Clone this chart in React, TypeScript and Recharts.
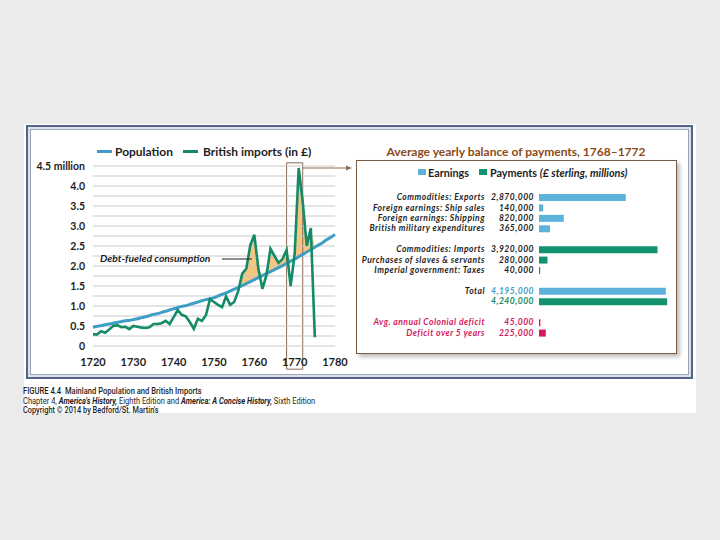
import React, { useLayoutEffect, useRef, useState } from "react";
import {
  ComposedChart,
  Line,
  Area,
  XAxis,
  YAxis,
  ReferenceLine,
  ReferenceArea,
  BarChart,
  Bar,
  Cell,
} from "recharts";

// ---- left chart data (millions) ----
const START_YEAR = 1720;
const population = [
  0.47, 0.49, 0.51, 0.53, 0.55, 0.57, 0.59, 0.61, 0.63, 0.64,
  0.66, 0.68, 0.71, 0.73, 0.76, 0.79, 0.81, 0.84, 0.87, 0.9,
  0.93, 0.96, 0.99, 1.01, 1.04, 1.07, 1.1, 1.13, 1.16, 1.18,
  1.21, 1.25, 1.29, 1.33, 1.37, 1.42, 1.46, 1.51, 1.56, 1.61,
  1.66, 1.71, 1.76, 1.81, 1.86, 1.91, 1.96, 2.01, 2.06, 2.12,
  2.17, 2.23, 2.29, 2.35, 2.41, 2.47, 2.53, 2.59, 2.66, 2.72,
  2.79,
];
const britishImports = [
  0.29, 0.29, 0.37, 0.33, 0.41, 0.5, 0.52, 0.47, 0.48, 0.42,
  0.5, 0.48, 0.46, 0.45, 0.47, 0.55, 0.55, 0.57, 0.63, 0.55,
  0.72, 0.9, 0.78, 0.74, 0.6, 0.43, 0.68, 0.63, 0.77, 1.17,
  1.1, 1.03, 0.97, 1.24, 1.03, 1.1, 1.37, 1.81, 1.93, 2.52,
  2.78, 1.93, 1.43, 1.77, 2.43, 2.25, 2.08, 2.18, 2.4, 1.5,
  2.3, 4.45, 3.6, 2.5, 2.95, 0.22,
];
const yearTicks = [1720, 1730, 1740, 1750, 1760, 1770, 1780];
const valueTicks = [0, 0.5, 1, 1.5, 2, 2.5, 3, 3.5, 4, 4.5];
const gridValues = [
  0.25, 0.5, 0.75, 1, 1.25, 1.5, 1.75, 2, 2.25, 2.5, 2.75, 3, 3.25, 3.5,
  3.75, 4, 4.25, 4.5,
];
const highlightYears = [1768, 1772];

// ---- balance of payments panel ----
const rowLabels = [
  "Commodities: Exports",
  "Foreign earnings: Ship sales",
  "Foreign earnings: Shipping",
  "British military expenditures",
  "",
  "Commodities: Imports",
  "Purchases of slaves & servants",
  "Imperial government: Taxes",
  "",
  "Total",
  "",
  "",
  "Avg. annual Colonial deficit",
  "Deficit over 5 years",
];
const rowValues = [
  2870000, 140000, 820000, 365000, null, 3920000, 280000, 40000, null,
  4195000, 4240000, null, 45000, 225000,
];
const rowKinds = [
  "earn", "earn", "earn", "earn", "", "pay", "pay", "pay", "",
  "earnTotal", "payTotal", "", "deficit", "deficit",
];

const BLUE = "#3d9dc6";
const GREEN = "#148a68";
const ORANGE = "#f5c071";
const EARN = "#5cb2db";
const PAY = "#13926f";
const DEFICIT = "#d5175c";
const BROWN = "#8b4a16";
const GRID = "#c9c9c9";
const FONT = "Lato, 'Open Sans', sans-serif";

const barFill: Record<string, string> = {
  earn: EARN,
  earnTotal: EARN,
  pay: PAY,
  payTotal: PAY,
  deficit: DEFICIT,
};
const valueColor: Record<string, string> = {
  earnTotal: "#3f9fc9",
  payTotal: GREEN,
  deficit: DEFICIT,
};

const lineData = population.map((p, i) => ({
  year: START_YEAR + i,
  pop: p,
  imp: i < britishImports.length ? britishImports[i] : null,
}));

const rowData = rowLabels.map((label, i) => ({
  id: `r${i}`,
  label,
  value: rowValues[i],
  kind: rowKinds[i],
}));

function Txt({ x, y, size, children, color = "#1e1e1e", italic = false, weight = 700, anchor = "start" }: any) {
  return (
    <div
      style={{
        position: "absolute",
        left: x,
        top: y,
        transform: `translate(${anchor === "middle" ? "-50%" : "0"}, -50%)`,
        fontFamily: FONT,
        fontSize: size,
        fontWeight: weight,
        fontStyle: italic ? "italic" : "normal",
        color,
        whiteSpace: "nowrap",
        lineHeight: 1,
      }}
    >
      {children}
    </div>
  );
}

// caption line squeezed horizontally to the condensed width of the original
function FitLine({ x, y, width, weight = 400, children }: any) {
  const ref = useRef<HTMLSpanElement>(null);
  const [scale, setScale] = useState(1);
  useLayoutEffect(() => {
    if (ref.current) {
      const w = ref.current.offsetWidth;
      if (w > 0) setScale(width / w);
    }
  }, [width]);
  return (
    <div style={{ position: "absolute", left: x, top: y, transform: "translateY(-50%)", lineHeight: 1 }}>
      <span
        ref={ref}
        style={{
          display: "inline-block",
          whiteSpace: "nowrap",
          fontFamily: "Roboto, sans-serif",
          fontSize: 9.5,
          fontWeight: weight,
          color: "#1e1e1e",
          transform: `scaleX(${scale})`,
          transformOrigin: "0 50%",
        }}
      >
        {children}
      </span>
    </div>
  );
}

const yTickFormat = (v: number) => (v === 4.5 ? "4.5 million" : v === 0 ? "0" : v.toFixed(1));

function YTick({ x, y, payload }: any) {
  return (
    <text
      x={x}
      y={y}
      dy="0.35em"
      textAnchor="end"
      fill="#1e1e1e"
      style={{ fontFamily: FONT, fontSize: 10.5, fontWeight: 700 }}
    >
      {yTickFormat(payload.value)}
    </text>
  );
}

function RowTick(props: any) {
  const { y, payload } = props;
  const row = rowData.find((r) => r.id === payload.value);
  if (!row) return null;
  const labelColor = row.kind === "deficit" ? DEFICIT : "#1e1e1e";
  const vColor = valueColor[row.kind] || "#1e1e1e";
  const style = {
    fontFamily: FONT,
    fontSize: 8.5,
    fontWeight: 700,
    fontStyle: "italic" as const,
    letterSpacing: 0.5,
  };
  return (
    <g>
      <text x={129} y={y} dy="0.35em" textAnchor="end" fill={labelColor} style={style}>
        {row.label}
      </text>
      {row.value != null && (
        <text x={178} y={y} dy="0.35em" textAnchor="end" fill={vColor} style={style}>
          {row.value.toLocaleString("en-US")}
        </text>
      )}
    </g>
  );
}

export default function App() {
  return (
    <div style={{ position: "absolute", left: 0, top: 0, width: 720, height: 540, background: "#ebebeb", overflow: "hidden" }}>
      {/* image box */}
      <div style={{ position: "absolute", left: 24, top: 124, width: 672, height: 289, background: "#fff" }} />
      {/* frame */}
      <div
        style={{
          position: "absolute",
          left: 26,
          top: 125,
          width: 667,
          height: 254,
          boxSizing: "border-box",
          border: "2px solid #55658a",
          boxShadow: "inset 0 0 0 2px #dde2ea, inset 0 0 0 3px #9aa6ba",
          background: "#fff",
        }}
      />

      {/* left legend */}
      <div style={{ position: "absolute", left: 97, top: 150, width: 15, height: 3, background: BLUE }} />
      <Txt x={115} y={151.5} size={12}>Population</Txt>
      <div style={{ position: "absolute", left: 183, top: 150, width: 15, height: 3, background: GREEN }} />
      <Txt x={203} y={151.5} size={12}>British imports (in £)</Txt>

      {/* left chart (half-pixel offset keeps the 1px grid crisp) */}
      <div style={{ position: "absolute", left: 30, top: 140.5, width: 320, height: 235 }}>
        <ComposedChart width={320} height={235} data={lineData} margin={{ top: 25, right: 15, left: 8, bottom: 10 }}>
          <XAxis
            dataKey="year"
            type="number"
            domain={[1720, 1780]}
            ticks={yearTicks}
            height={20}
            axisLine={{ stroke: GRID }}
            tickLine={false}
            tickMargin={6}
            tick={{ fontFamily: FONT, fontSize: 11, fontWeight: 700, fill: "#1e1e1e" }}
          />
          <YAxis
            type="number"
            domain={[0, 4.5]}
            ticks={valueTicks}
            interval={0}
            width={55}
            axisLine={false}
            tickLine={false}
            tick={<YTick />}
          />
          {gridValues.map((v) => (
            <ReferenceLine key={v} y={v} stroke={GRID} strokeWidth={1} />
          ))}
          <Area
            type="linear"
            dataKey={(d: any) => (d.imp == null ? null : [d.pop, Math.max(d.pop, d.imp)])}
            fill={ORANGE}
            fillOpacity={0.9}
            stroke="none"
            isAnimationActive={false}
          />
          <Line type="monotone" dataKey="pop" stroke={BLUE} strokeWidth={3} dot={false} isAnimationActive={false} />
          <Line type="linear" dataKey="imp" stroke={GREEN} strokeWidth={2.6} dot={false} isAnimationActive={false} />
          <ReferenceArea
            x1={highlightYears[0]}
            x2={highlightYears[1]}
            y1={-0.58}
            y2={4.58}
            ifOverflow="visible"
            fill="none"
            stroke="#8c6a52"
            strokeWidth={1}
          />
        </ComposedChart>
      </div>

      {/* annotation */}
      <Txt x={100} y={258} size={10.3} italic>Debt-fueled consumption</Txt>

      {/* right panel */}
      <Txt x={516} y={151.5} size={12} color={BROWN} anchor="middle">
        Average yearly balance of payments, 1768–1772
      </Txt>
      <div
        style={{
          position: "absolute",
          left: 356,
          top: 160,
          width: 321,
          height: 194,
          boxSizing: "border-box",
          border: "1px solid #7b5d45",
          background: "#fff",
          boxShadow: "3px 3px 4px rgba(0,0,0,0.25)",
        }}
      />
      <div style={{ position: "absolute", left: 418, top: 169, width: 8, height: 6, background: EARN }} />
      <Txt x={428} y={172.5} size={10.8}>Earnings</Txt>
      <div style={{ position: "absolute", left: 479, top: 169, width: 8, height: 6, background: PAY }} />
      <Txt x={490} y={172.5} size={10.8}>
        Payments <i>(£ sterling, millions)</i>
      </Txt>
      <div style={{ position: "absolute", left: 356, top: 185, width: 321, height: 160 }}>
        <BarChart
          width={321}
          height={160}
          data={rowData}
          layout="vertical"
          margin={{ top: 7, right: 5, left: 0, bottom: 7 }}
        >
          <XAxis type="number" domain={[0, 4400000]} hide />
          <YAxis
            type="category"
            dataKey="id"
            width={183}
            axisLine={false}
            tickLine={false}
            interval={0}
            tick={<RowTick />}
          />
          <Bar dataKey="value" barSize={7} isAnimationActive={false}>
            {rowData.map((r) => (
              <Cell key={r.id} fill={barFill[r.kind] || "none"} />
            ))}
          </Bar>
        </BarChart>
      </div>

      {/* connector + leader lines */}
      <svg width={720} height={540} style={{ position: "absolute", left: 0, top: 0, pointerEvents: "none" }}>
        <line x1={222} y1={259} x2={252} y2={259} stroke="#1e1e1e" strokeWidth={1} />
        <line x1={303} y1={168} x2={346} y2={168} stroke="#8c6a52" strokeWidth={1} />
        <polygon points="346,165.5 352,168 346,170.5" fill="#8c6a52" />
      </svg>

      {/* caption */}
      <FitLine x={23} y={389} width={179} weight={500}>
        FIGURE 4.4&nbsp; Mainland Population and British Imports
      </FitLine>
      <FitLine x={23} y={398.5} width={292}>
        Chapter 4, <b><i>America's History,</i></b> Eighth Edition and{" "}
        <b><i>America: A Concise History,</i></b> Sixth Edition
      </FitLine>
      <FitLine x={23} y={408} width={136} weight={500}>
        Copyright © 2014 by Bedford/St. Martin's
      </FitLine>
    </div>
  );
}
